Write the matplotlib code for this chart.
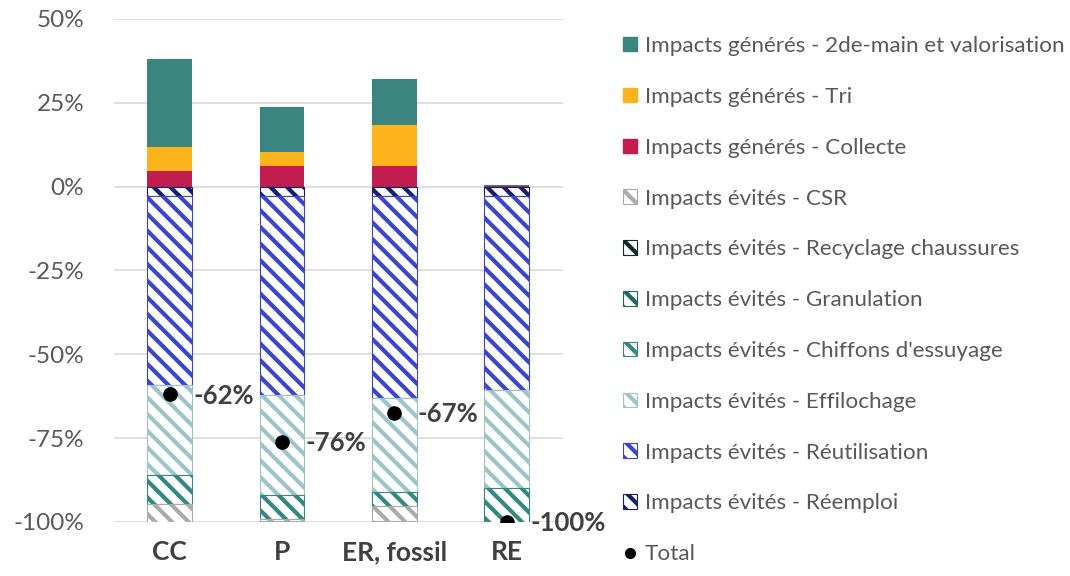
import matplotlib
matplotlib.use("Agg")
import matplotlib.pyplot as plt
import numpy as np
from matplotlib.patches import Patch
from matplotlib.lines import Line2D
from matplotlib.ticker import PercentFormatter

# ---- data (% of avoided impacts) ----
categories = ["CC", "P", "ER, fossil", "RE"]

# generated impacts (stacked upwards from 0)
gen_collecte = [4.6, 6.3, 6.3, 0.2]
gen_tri = [7.1, 3.9, 12.0, 0.0]
gen_seconde_main = [26.4, 13.5, 13.9, 0.3]

# avoided impacts (stacked downwards from 0)
evit_reemploi = [-2.7, -2.7, -2.7, -2.7]
evit_reutilisation = [-56.4, -59.4, -60.4, -57.9]
evit_effilochage = [-26.8, -29.8, -28.0, -29.3]
evit_chiffons = [-8.7, -7.3, -4.1, -10.6]
evit_granulation = [0.0, 0.0, 0.0, 0.0]
evit_recyclage_chaussures = [0.0, 0.0, 0.0, 0.0]
evit_csr = [-5.4, -0.5, -4.4, 0.0]

labels = {
    "seconde_main": "Impacts générés - 2de-main et valorisation",
    "tri": "Impacts générés - Tri",
    "collecte": "Impacts générés - Collecte",
    "csr": "Impacts évités - CSR",
    "recyclage": "Impacts évités - Recyclage chaussures",
    "granulation": "Impacts évités - Granulation",
    "chiffons": "Impacts évités - Chiffons d'essuyage",
    "effilochage": "Impacts évités - Effilochage",
    "reutilisation": "Impacts évités - Réutilisation",
    "reemploi": "Impacts évités - Réemploi",
    "total": "Total",
}

colors = {
    "seconde_main": "#3A857F",
    "tri": "#FDB31B",
    "collecte": "#C21D4E",
    "csr": "#ABABAB",
    "recyclage": "#0E2B30",
    "granulation": "#1E6A62",
    "chiffons": "#358880",
    "effilochage": "#9DC4C8",
    "reutilisation": "#3A46CC",
    "reemploi": "#141F6E",
}

plt.rcParams["font.family"] = ["Lato", "DejaVu Sans"]
plt.rcParams["hatch.linewidth"] = 3.0
plt.rcParams["axes.unicode_minus"] = False

fig = plt.figure(figsize=(10.7, 5.76), dpi=100)
ax = fig.add_axes([0.1061, 0.09375, 0.4198, 0.8733])

x = np.arange(len(categories))
width = 0.396

handles = {}

# positive stack
bottom = np.zeros(len(categories))
for key, vals in [("collecte", gen_collecte), ("tri", gen_tri),
                  ("seconde_main", gen_seconde_main)]:
    vals = np.array(vals)
    ax.bar(x, vals, width, bottom=bottom, color=colors[key], linewidth=0,
           zorder=2)
    handles[key] = Patch(facecolor=colors[key], edgecolor=colors[key])
    bottom += vals

# negative stack, hatched
bottom = np.zeros(len(categories))
for key, vals in [("reemploi", evit_reemploi),
                  ("reutilisation", evit_reutilisation),
                  ("effilochage", evit_effilochage),
                  ("chiffons", evit_chiffons),
                  ("granulation", evit_granulation),
                  ("recyclage", evit_recyclage_chaussures),
                  ("csr", evit_csr)]:
    vals = np.array(vals)
    bars = ax.bar(x, vals, width, bottom=bottom, facecolor="white",
                  edgecolor=colors[key], hatch="\\\\", linewidth=0.8, zorder=2)
    for b, v in zip(bars, vals):
        if v == 0:
            b.set_linewidth(0)
            b.set_hatch(None)
    handles[key] = Patch(facecolor="white", edgecolor=colors[key], hatch="\\\\",
                         linewidth=0.8)
    bottom += vals

# net total
totals = (np.array(gen_collecte) + np.array(gen_tri) + np.array(gen_seconde_main)
          + np.array(evit_reemploi) + np.array(evit_reutilisation)
          + np.array(evit_effilochage) + np.array(evit_chiffons)
          + np.array(evit_granulation) + np.array(evit_recyclage_chaussures)
          + np.array(evit_csr))
ax.plot(x, totals, "o", color="black", markersize=9.5, linestyle="none", zorder=5)
handles["total"] = Line2D([], [], marker="o", color="black", linestyle="none",
                          markersize=7)
for xi, t in zip(x, totals):
    ax.annotate(f"{t:.0f}%", (xi, t), xytext=(17, -1), textcoords="offset points",
                ha="left", va="center", fontsize=18.5, fontweight="bold",
                color="#404040", zorder=6)

# axes styling
ax.set_xlim(-0.5, len(categories) - 0.5)
ax.set_ylim(-100, 50)
ax.set_yticks([50, 25, 0, -25, -50, -75, -100])
ax.yaxis.set_major_formatter(PercentFormatter(xmax=100, decimals=0))
ax.set_xticks(x)
ax.set_xticklabels(categories, fontweight="bold", fontsize=19, color="#404040")
ax.tick_params(axis="y", length=0, labelsize=17.5, labelcolor="#595959", pad=21)
ax.tick_params(axis="x", length=0, pad=13)
ax.yaxis.grid(True, color="#D9D9D9", linewidth=1.2, zorder=0)
ax.set_axisbelow(True)
for s in ax.spines.values():
    s.set_visible(False)

order = ["seconde_main", "tri", "collecte", "csr", "recyclage", "granulation",
         "chiffons", "effilochage", "reutilisation", "reemploi", "total"]
fig.legend([handles[k] for k in order], [labels[k] for k in order],
           loc="upper left", bbox_to_anchor=(0.574, 0.953), frameon=False,
           fontsize=16.2, labelspacing=1.37, handlelength=0.62, handleheight=0.62,
           handletextpad=0.33, labelcolor="#595959", borderaxespad=0)

fig.savefig("out.png", dpi=100)
